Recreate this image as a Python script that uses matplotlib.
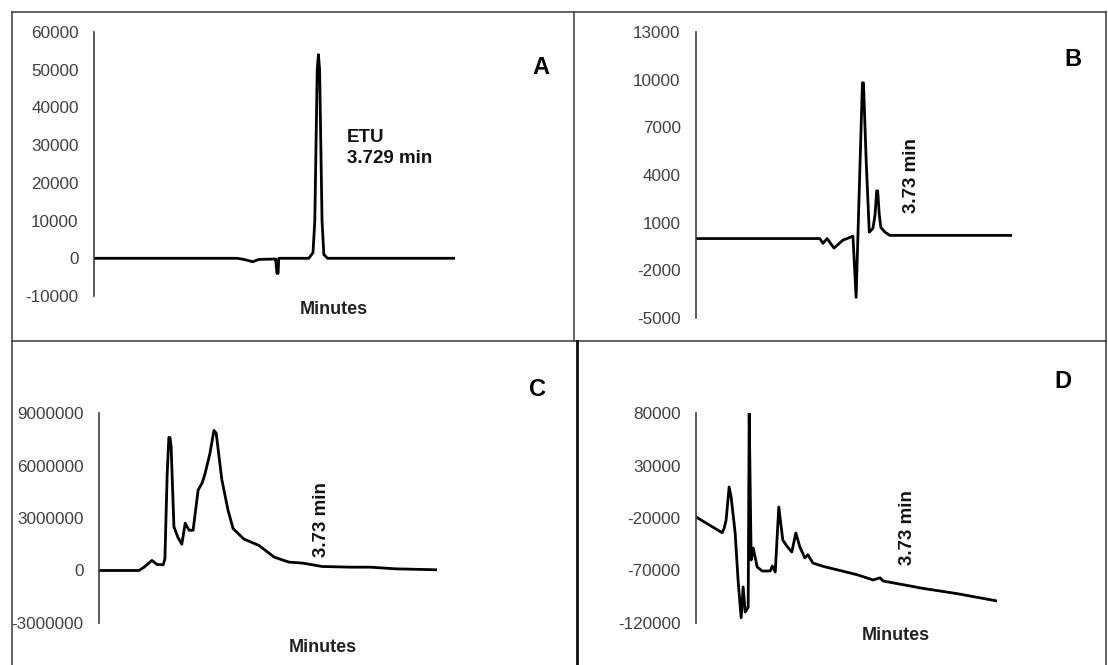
import numpy as np
import matplotlib
matplotlib.use("Agg")
import matplotlib.pyplot as plt
from matplotlib.lines import Line2D

plt.rcParams['font.family'] = ['Liberation Sans', 'DejaVu Sans']

# ---- data (time in minutes, signal) ----
t_a = [0.00, 2.38, 2.49, 2.64, 2.74, 2.99, 3.02, 3.04, 3.06, 3.07, 3.57, 3.64,
       3.67, 3.69, 3.71, 3.73, 3.75, 3.77, 3.79, 3.82, 3.88, 6.00]
sig_a = [0, 0, -300, -900, -300, -200, -200, -4000, -4000, 0, 0, 1500,
         10000, 30000, 50000, 54000, 50000, 30000, 10000, 1000, 0, 0]

t_b = [0.00, 2.35, 2.41, 2.49, 2.62, 2.79, 2.98, 3.04, 3.16, 3.18, 3.23, 3.29,
       3.36, 3.40, 3.43, 3.45, 3.48, 3.51, 3.59, 3.68, 6.00]
sig_b = [0, 0, -300, 0, -600, -100, 150, -3700, 9800, 9800, 5000, 400,
         650, 1500, 3000, 3000, 1500, 700, 400, 200, 200]

t_c = [0.00, 0.71, 0.80, 0.94, 1.03, 1.14, 1.17, 1.21, 1.24, 1.26, 1.28, 1.33,
       1.40, 1.47, 1.53, 1.60, 1.67, 1.76, 1.83, 1.88, 1.97, 2.04, 2.08, 2.18,
       2.29, 2.38, 2.57, 2.84, 3.11, 3.37, 3.62, 3.96, 4.47, 4.81, 5.27, 6.00]
sig_c = [0, 0, 190000, 575000, 344000, 325000, 670000, 5500000, 7600000,
         7600000, 7100000, 2500000, 1900000, 1500000, 2700000, 2300000,
         2300000, 4600000, 5000000, 5500000, 6700000, 8000000, 7850000,
         5200000, 3450000, 2400000, 1800000, 1430000, 765000, 480000, 420000,
         230000, 190000, 190000, 95000, 40000]

t_d = [0.00, 0.52, 0.56, 0.60, 0.66, 0.70, 0.78, 0.84, 0.90, 0.94, 0.98, 1.04,
       1.06, 1.10, 1.14, 1.22, 1.32, 1.48, 1.52, 1.58, 1.65, 1.73, 1.81, 1.91,
       1.99, 2.07, 2.17, 2.23, 2.33, 2.53, 3.21, 3.53, 3.67, 3.73, 4.52, 5.20,
       6.00]
sig_d = [-19000, -34000, -30000, -22000, 9500, 0, -34000, -80000, -115000,
         -85700, -109500, -105000, 80000, -60000, -48600, -66700, -70500,
         -70500, -65700, -71400, -9500, -41000, -46700, -52400, -34300,
         -47600, -58000, -55000, -62900, -66000, -74000, -79000, -77000,
         -80000, -87000, -92000, -99000]

ticks_a = [-10000, 0, 10000, 20000, 30000, 40000, 50000, 60000]
ticks_b = [-5000, -2000, 1000, 4000, 7000, 10000, 13000]
ticks_c = [-3000000, 0, 3000000, 6000000, 9000000]
ticks_d = [-120000, -70000, -20000, 30000, 80000]

W, H = 1108, 665
fig = plt.figure(figsize=(W / 100, H / 100), dpi=100)
fig.patch.set_facecolor('white')


def panel(x0, x1, ytop, ybot, t, s, ticks):
    ax = fig.add_axes([x0 / W, (H - ybot) / H, (x1 - x0) / W, (ybot - ytop) / H])
    ax.plot(t, s, color='black', lw=2.0, solid_joinstyle='round')
    ax.set_xlim(0, 6)
    ax.set_ylim(ticks[0], ticks[-1])
    ax.set_yticks(ticks)
    ax.set_yticklabels([str(v) for v in ticks])
    ax.set_xticks([])
    for side in ['top', 'right', 'bottom']:
        ax.spines[side].set_visible(False)
    ax.spines['left'].set_color('#404040')
    ax.spines['left'].set_linewidth(1.2)
    ax.tick_params(axis='y', length=0, pad=11, labelsize=12.3, labelcolor='#404040')
    ax.patch.set_alpha(0)
    return ax


def ftext(x, y, s, **kw):
    fig.text(x / W, 1 - y / H, s, ha='center', va='center', **kw)


panel(94, 455, 32, 296, t_a, sig_a, ticks_a)
panel(696, 1012, 32, 318, t_b, sig_b, ticks_b)
panel(99, 437, 413, 623, t_c, sig_c, ticks_c)
panel(696, 997, 413, 623, t_d, sig_d, ticks_d)

# panel letters
for x, y, s in [(541, 67, 'A'), (1073, 60, 'B'), (538, 389, 'C'), (1063, 382, 'D')]:
    ftext(x, y, s, fontsize=17, fontweight='bold', color='black')

# annotations
fig.text(347 / W, 1 - 148 / H, 'ETU\n3.729 min', ha='left', va='center',
         fontsize=13.5, fontweight='bold', color='#111111', linespacing=1.25)
for x, y in [(912, 176), (322, 520), (907, 528)]:
    ftext(x, y, '3.73 min', rotation=90, fontsize=13.5, fontweight='bold', color='#111111')
for x, y in [(334, 310), (323, 647), (896, 636)]:
    ftext(x, y, 'Minutes', fontsize=13, fontweight='bold', color='#222222')

# panel frames
frame = dict(color='#3a3a3a', lw=1.1)
def fline(xs, ys, **kw):
    fig.add_artist(Line2D([x / W for x in xs], [1 - y / H for y in ys], **kw))

fline([12, 1106], [12, 12], **frame)
fline([12, 1106], [341, 341], **frame)
fline([12, 12], [12, 665], **frame)
fline([574, 574], [12, 341], **frame)
fline([1106, 1106], [12, 665], **frame)
fline([577, 577], [341, 665], color='#111111', lw=2.0)

fig.savefig('out.png', dpi=100)
